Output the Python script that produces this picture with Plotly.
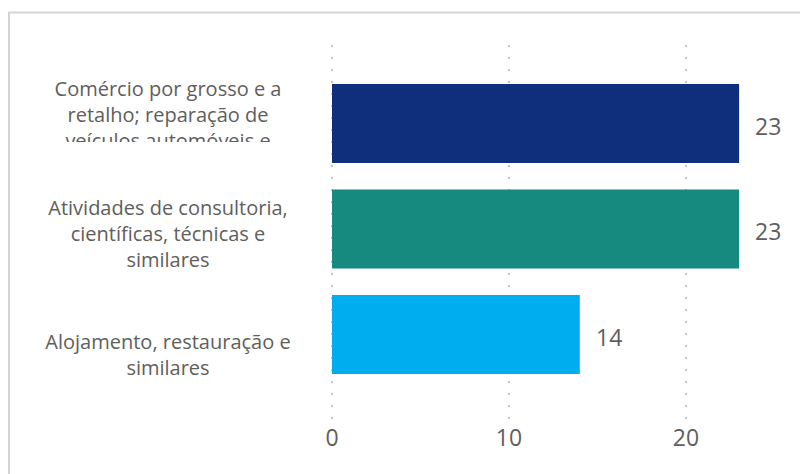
import plotly.graph_objects as go

categories = [
    "Comércio por grosso e a<br>retalho; reparação de<br>veículos automóveis e",
    "Atividades de consultoria,<br>científicas, técnicas e<br>similares",
    "Alojamento, restauração e<br>similares",
]
values = [23, 23, 14]
bar_colors = ["#0f2e7c", "#178a80", "#00aeef"]
x_ticks = [0, 10, 20]
x_tick_labels = ["0", "10", "20"]

# layout geometry (pixels)
W, H = 800, 474
ML, MR, MT, MB = 10, 30, 45, 52
PLOT_W = W - ML - MR
PLOT_H = H - MT - MB
X0_PX = 332          # pixel where x = 0
PX_PER_UNIT = 17.7
Y_TOP, Y_BOT = -0.744, 2.829
PX_PER_CAT = PLOT_H / (Y_BOT - Y_TOP)

x_lo = -(X0_PX - ML) / PX_PER_UNIT
x_hi = (W - MR - X0_PX) / PX_PER_UNIT

def px_to_x(p):
    return (p - X0_PX) / PX_PER_UNIT

def px_to_y(p):
    return Y_TOP + (p - MT) / PX_PER_CAT

idx = list(range(len(categories)))
label_center_px = 168
label_dy_px = [-6.5, 6.5, 22]

text_color = "#605e5c"

fig = go.Figure()
fig.add_trace(go.Bar(
    x=values, y=idx, orientation="h",
    marker=dict(color=bar_colors, line=dict(width=0)),
    width=0.75, hoverinfo="skip",
))
fig.add_trace(go.Scatter(
    x=[px_to_x(label_center_px)] * len(idx),
    y=[i + d / PX_PER_CAT for i, d in zip(idx, label_dy_px)],
    mode="text", text=categories, textposition="middle center",
    textfont=dict(family="Open Sans", size=20, color=text_color),
    cliponaxis=True, hoverinfo="skip", showlegend=False,
))

for i, v in zip(idx, values):
    fig.add_annotation(
        x=v, y=i, xref="x", yref="y", text=str(v), showarrow=False,
        xanchor="left", yanchor="middle", xshift=14, yshift=-2,
        font=dict(family="Open Sans", size=23, color=text_color),
    )

# clip the overflowing third line of the first label
fig.add_shape(
    type="rect", xref="x", yref="y", layer="above",
    x0=x_lo, x1=px_to_x(320), y0=px_to_y(142), y1=px_to_y(185),
    fillcolor="white", line=dict(width=0),
)

# frame (left and top edges)
def paper_x(p):
    return (p - ML) / PLOT_W

def paper_y(p):
    return (H - MB - p) / PLOT_H

frame_color = "#d5d3ce"
fig.add_shape(type="line", xref="paper", yref="paper",
              x0=paper_x(9), x1=paper_x(9), y0=paper_y(12.5), y1=paper_y(480),
              line=dict(color=frame_color, width=2))
fig.add_shape(type="line", xref="paper", yref="paper",
              x0=paper_x(8), x1=paper_x(805), y0=paper_y(12.5), y1=paper_y(12.5),
              line=dict(color=frame_color, width=2))

fig.update_layout(
    width=W, height=H,
    margin=dict(l=ML, r=MR, t=MT, b=MB),
    paper_bgcolor="white", plot_bgcolor="white",
    showlegend=False,
    xaxis=dict(
        range=[x_lo, x_hi], tickvals=x_ticks, ticktext=x_tick_labels,
        showgrid=True, gridcolor="#c4c4c4", gridwidth=1.5, griddash="1.5px,10.5px",
        zeroline=False, showline=False, ticks="",
        tickfont=dict(family="Open Sans", size=23, color=text_color),
        fixedrange=True,
    ),
    yaxis=dict(
        range=[Y_BOT, Y_TOP], showticklabels=False, showgrid=False,
        zeroline=False, showline=False, ticks="", fixedrange=True,
    ),
)

fig.write_html(
    "out.html",
    config={"displayModeBar": False},
    post_script="document.body.style.margin='0';document.body.style.overflow='hidden';",
)
